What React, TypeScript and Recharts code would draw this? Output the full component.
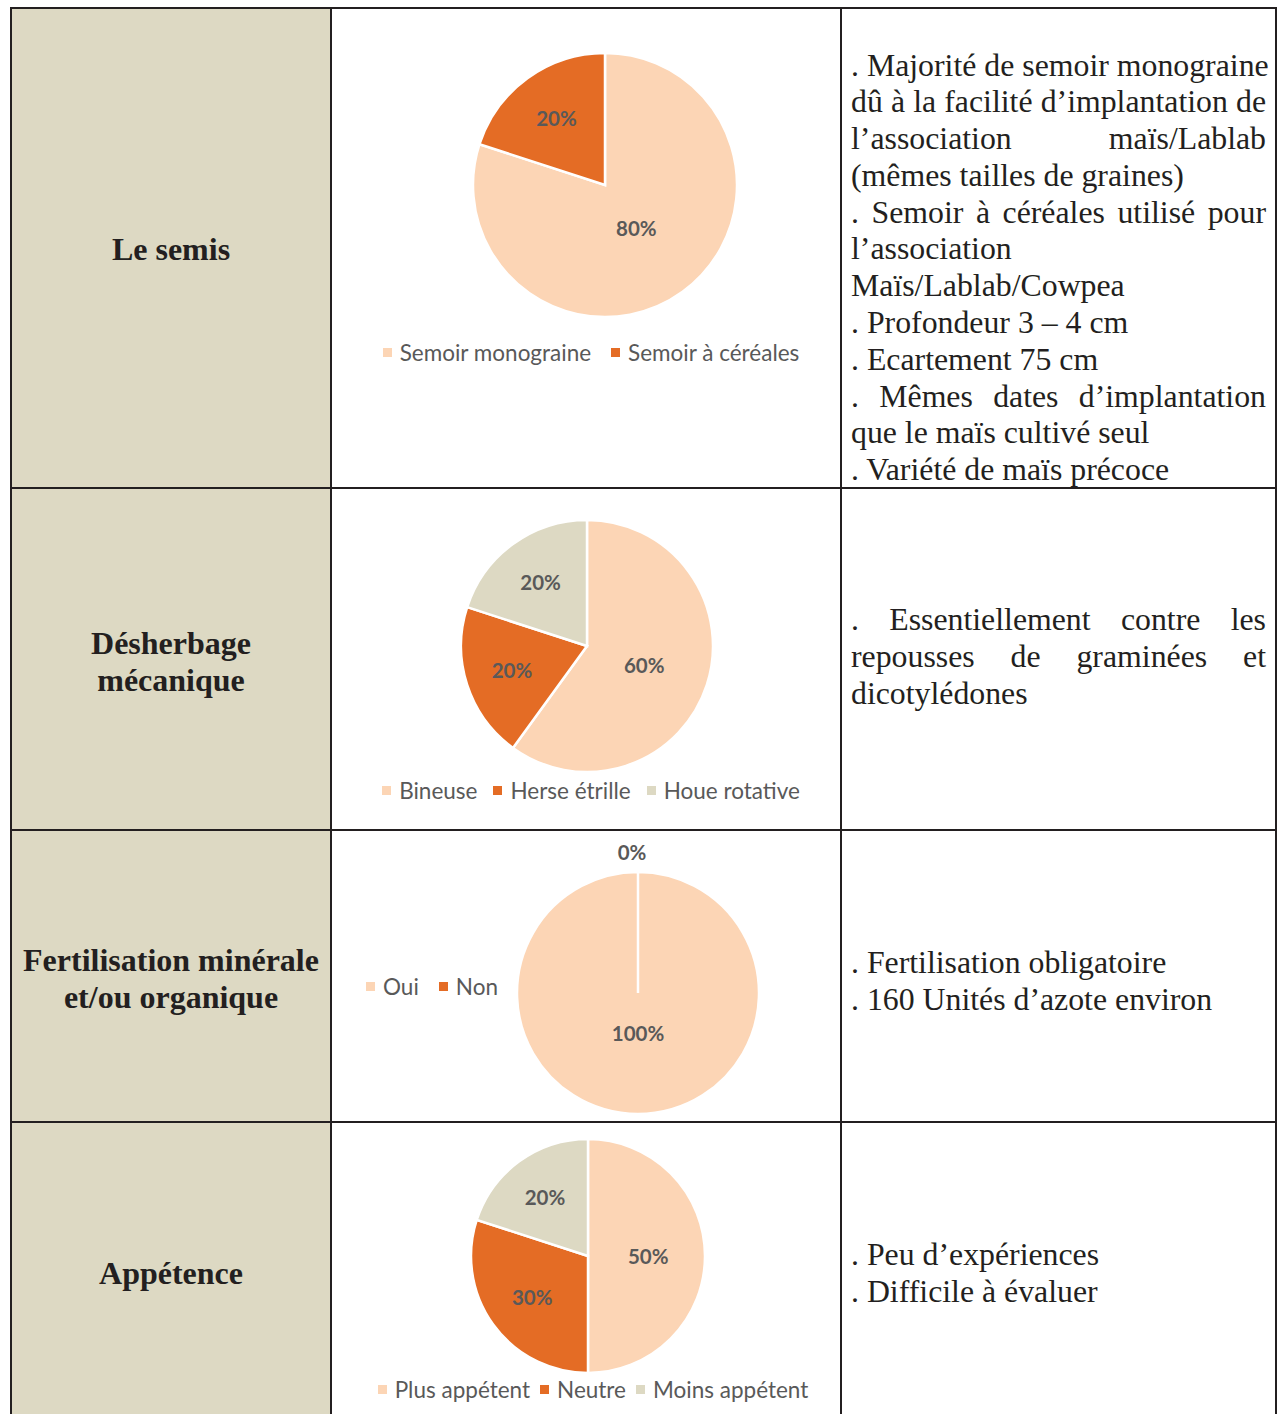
import { PieChart, Pie, Cell, Legend } from "recharts";

const sliceColors = ["#FCD5B5", "#E46C25", "#DDD9C3"];

const semisNames = ["Semoir monograine", "Semoir à céréales"];
const semisValues = [80, 20];

const desherbageNames = ["Bineuse", "Herse étrille", "Houe rotative"];
const desherbageValues = [60, 20, 20];

const fertiNames = ["Oui", "Non"];
const fertiValues = [100, 0];

const appetenceNames = ["Plus appétent", "Neutre", "Moins appétent"];
const appetenceValues = [50, 30, 20];

const rowTitles = [
  ["Le semis"],
  ["Désherbage", "mécanique"],
  ["Fertilisation minérale", "et/ou organique"],
  ["Appétence"],
];

// [text, justified]
const semisNotes: [string, boolean][] = [
  [". Majorité de semoir monograine", true],
  ["dû à la facilité d’implantation de", true],
  ["l’association maïs/Lablab", true],
  ["(mêmes tailles de graines)", false],
  [". Semoir à céréales utilisé pour", true],
  ["l’association", false],
  ["Maïs/Lablab/Cowpea", false],
  [". Profondeur 3 – 4 cm", false],
  [". Ecartement 75 cm", false],
  [". Mêmes dates d’implantation", true],
  ["que le maïs cultivé seul", false],
  [". Variété de maïs précoce", false],
];
const desherbageNotes: [string, boolean][] = [
  [". Essentiellement contre les", true],
  ["repousses de graminées et", true],
  ["dicotylédones", false],
];
const fertiNotes: [string, boolean][] = [
  [". Fertilisation obligatoire", false],
  [". 160 Unités d’azote environ", false],
];
const appetenceNotes: [string, boolean][] = [
  [". Peu d’expériences", false],
  [". Difficile à évaluer", false],
];

const toRows = (names: string[], values: number[]) =>
  names.map((name, i) => ({ name, value: values[i] }));

const RADIAN = Math.PI / 180;
const SERIF = "'Liberation Serif', 'Times New Roman', serif";
const SANS = "Lato, 'Open Sans', sans-serif";
const LINE = "#231F20";

const renderLabel = (props: any) => {
  const { cx, cy, midAngle, outerRadius, value } = props;
  const r = value === 0 ? outerRadius + 20 : outerRadius * (0.7 - 0.0037 * value);
  const x = cx + r * Math.cos(-midAngle * RADIAN);
  const y = cy + r * Math.sin(-midAngle * RADIAN);
  return (
    <text
      x={value === 0 ? x - 6 : x}
      y={y}
      fill="#595959"
      fontFamily={SANS}
      fontWeight={700}
      fontSize={20.5}
      textAnchor="middle"
      dominantBaseline="central"
    >
      {`${value}%`}
    </text>
  );
};

// keeps the legend in data order (Recharts sorts it by name otherwise)
const makeLegend = (names: string[], gap: number) => (props: any) => {
  const items = [...(props.payload || [])].sort(
    (a: any, b: any) => names.indexOf(a.value) - names.indexOf(b.value)
  );
  return (
    <div style={{ display: "flex", justifyContent: "center", gap, fontFamily: SANS, fontSize: 22.5, color: "#595959" }}>
      {items.map((item: any) => (
        <span key={item.value} style={{ display: "flex", alignItems: "center" }}>
          <span style={{ width: 9, height: 9, background: item.color, marginRight: 8, display: "inline-block" }} />
          {item.value}
        </span>
      ))}
    </div>
  );
};

type PieCellProps = {
  names: string[];
  values: number[];
  height: number;
  cx: number;
  cy: number;
  r: number;
  gap: number;
  legendStyle: React.CSSProperties;
};

const PieCell = ({ names, values, height, cx, cy, r, gap, legendStyle }: PieCellProps) => {
  const data = toRows(names, values);
  return (
    <PieChart width={508} height={height} margin={{ top: 0, right: 0, bottom: 0, left: 0 }}>
      <Pie
        data={data}
        dataKey="value"
        nameKey="name"
        cx={cx}
        cy={cy}
        outerRadius={r}
        startAngle={90}
        endAngle={-270}
        stroke="#ffffff"
        strokeWidth={2.5}
        label={renderLabel}
        labelLine={false}
        isAnimationActive={false}
      >
        {data.map((d, i) => (
          <Cell key={d.name} fill={sliceColors[i]} />
        ))}
      </Pie>
      <Legend content={makeLegend(names, gap)} wrapperStyle={legendStyle} />
    </PieChart>
  );
};

const Notes = ({ lines, top }: { lines: [string, boolean][]; top: number }) => (
  <div style={{ position: "absolute", left: 851, top, width: 415, fontFamily: SERIF, fontSize: 31.8, color: "#231F20" }}>
    {lines.map(([t, j]) => (
      <div
        key={t}
        style={{ height: 36.8, lineHeight: "36.8px", whiteSpace: "nowrap", textAlign: j ? "justify" : "left", textAlignLast: j ? "justify" : "left" }}
      >
        {t}
      </div>
    ))}
  </div>
);

const rowTops = [8, 488, 830, 1122];
const titleTops = [231, 625, 942, 1255];

export default function App() {
  return (
    <div style={{ position: "absolute", left: 0, top: 0, width: 1279, height: 1414, overflow: "hidden", background: "#fff" }}>
      <div style={{ position: "absolute", left: 11, top: 9, width: 320, height: 1410, background: "#DDD9C3" }} />
      {[10, 330, 840, 1275].map((x) => (
        <div key={x} style={{ position: "absolute", left: x, top: 8, width: 2, height: 1410, background: LINE }} />
      ))}
      {rowTops.map((y) => (
        <div key={y} style={{ position: "absolute", left: 10, top: y - 1, width: 1267, height: 2, background: LINE }} />
      ))}

      {rowTitles.map((lines, i) => (
        <div
          key={i}
          style={{ position: "absolute", left: 12, top: titleTops[i], width: 318, textAlign: "center", fontFamily: SERIF, fontWeight: 700, fontSize: 32, lineHeight: "36.5px", color: "#231F20" }}
        >
          {lines.map((l) => (
            <div key={l}>{l}</div>
          ))}
        </div>
      ))}

      <div style={{ position: "absolute", left: 332, top: 9 }}>
        <PieCell names={semisNames} values={semisValues} height={478} cx={273} cy={176} r={132} gap={20} legendStyle={{ top: 330, left: 0, width: 518 }} />
      </div>
      <div style={{ position: "absolute", left: 332, top: 489 }}>
        <PieCell names={desherbageNames} values={desherbageValues} height={340} cx={255} cy={157} r={126} gap={16} legendStyle={{ top: 288, left: 0, width: 518 }} />
      </div>
      <div style={{ position: "absolute", left: 332, top: 831 }}>
        <PieCell names={fertiNames} values={fertiValues} height={290} cx={306} cy={162} r={121} gap={20} legendStyle={{ top: 142, left: 30, width: 140 }} />
      </div>
      <div style={{ position: "absolute", left: 332, top: 1123 }}>
        <PieCell names={appetenceNames} values={appetenceValues} height={291} cx={256} cy={133} r={117} gap={10} legendStyle={{ top: 253, left: 0, width: 522 }} />
      </div>

      <Notes lines={semisNotes} top={47.5} />
      <Notes lines={desherbageNotes} top={602} />
      <Notes lines={fertiNotes} top={945} />
      <Notes lines={appetenceNotes} top={1237} />
    </div>
  );
}
